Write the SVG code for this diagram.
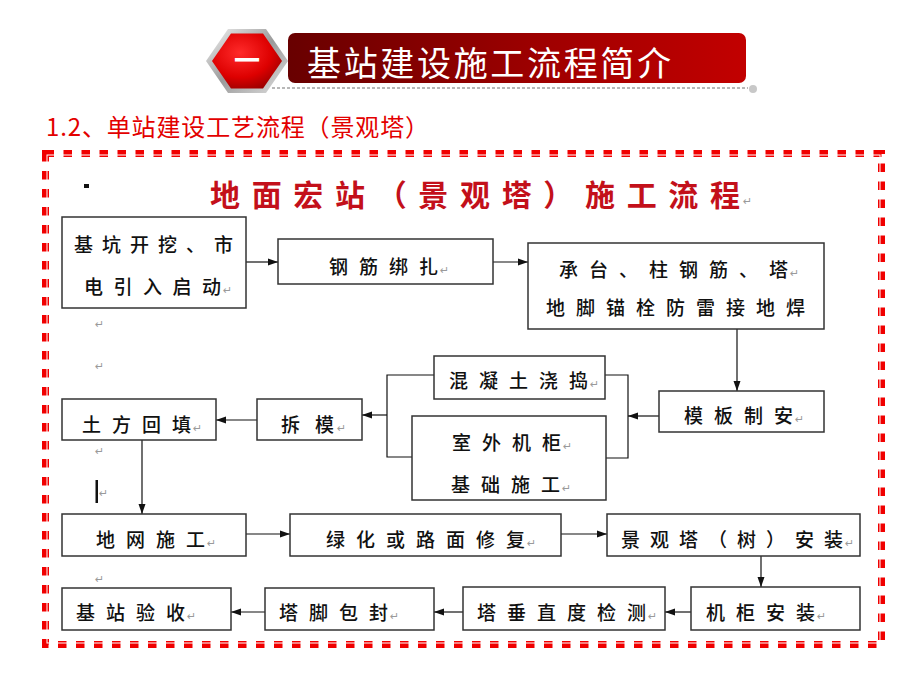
<svg xmlns="http://www.w3.org/2000/svg" width="920" height="690" viewBox="0 0 920 690">
<defs>
<linearGradient id="ban" x1="0" y1="0" x2="1" y2="0">
<stop offset="0" stop-color="#680000"/>
<stop offset="0.55" stop-color="#9e0000"/>
<stop offset="1" stop-color="#c20000"/>
</linearGradient>
<linearGradient id="silver" x1="0" y1="0" x2="1" y2="1">
<stop offset="0" stop-color="#f4f4f4"/>
<stop offset="0.5" stop-color="#9a9a9a"/>
<stop offset="1" stop-color="#e0e0e0"/>
</linearGradient>
<radialGradient id="hexred" cx="0.4" cy="0.35" r="0.75">
<stop offset="0" stop-color="#ff2a2a"/>
<stop offset="0.6" stop-color="#dd0000"/>
<stop offset="1" stop-color="#900000"/>
</radialGradient>
<marker id="ah" viewBox="0 0 10 10" refX="10" refY="5" markerWidth="10" markerHeight="10" orient="auto" markerUnits="userSpaceOnUse">
<path d="M0,1.5 L10,5 L0,8.5 z" fill="#111"/>
</marker>
<style>
.b{fill:#fff;stroke:#333;stroke-width:1.5}
.t{font-family:"Noto Sans CJK SC","Noto Sans CJK JP",sans-serif;font-size:19px;fill:#111;letter-spacing:11px;font-weight:500}
.t tspan{letter-spacing:0}
.rt{font-family:"DejaVu Sans",sans-serif;font-size:11px;fill:#9a9a9a;letter-spacing:0;font-weight:normal}
.c{fill:none;stroke:#111;stroke-width:1.2}
.a{marker-end:url(#ah)}
</style>
</defs>
<rect width="920" height="690" fill="#fff"/>

<g id="header">
<polygon points="206,61 228,29 266,29 288,61 266,93 228,93" fill="url(#silver)"/>
<polygon points="212,61 231,33.5 263,33.5 282,61 263,88.5 231,88.5" fill="url(#hexred)"/>
<text x="247" y="70" text-anchor="middle" font-family="Noto Sans CJK SC,sans-serif" font-size="26" font-weight="bold" fill="#fff">一</text>
<rect x="288" y="33" width="458" height="50" rx="7" fill="url(#ban)"/>
<text x="307" y="76" font-family="Noto Sans CJK SC,sans-serif" font-size="34" fill="#fff" textLength="364" lengthAdjust="spacing">基站建设施工流程简介</text>
<line x1="272" y1="88" x2="748" y2="88" stroke="#b8b8b8" stroke-width="2" stroke-dasharray="3 2"/>
<circle cx="753" cy="89" r="4" fill="#c8c8c8"/>
</g>

<text id="subtitle" x="46" y="136" font-family="Noto Sans CJK SC,sans-serif" font-size="24" fill="#e30000" textLength="383" lengthAdjust="spacing">1.2、单站建设工艺流程（景观塔）</text>

<g id="frame">
<rect x="45.5" y="153.5" width="836" height="491" fill="none" stroke="#f00000" stroke-width="7" stroke-dasharray="8.5 9.5"/>
<rect x="47" y="155" width="833" height="488" fill="none" stroke="#fff" stroke-width="1"/>
</g>

<rect x="84" y="184" width="5" height="4" fill="#111"/>
<g id="title">
<text x="210" y="206" font-family="Noto Sans CJK SC,sans-serif" font-size="30" font-weight="bold" fill="#c3101a" textLength="530" lengthAdjust="spacing">地面宏站（景观塔）施工流程</text>
<text x="743" y="205" class="rt">↵</text>
</g>

<g id="marks">
<text x="95" y="328" class="rt">↵</text>
<text x="95" y="370" class="rt">↵</text>
<text x="95" y="455" class="rt">↵</text>
<rect x="95.5" y="480" width="2.5" height="23" fill="#111"/>
<text x="99" y="497" class="rt">↵</text>
<text x="95" y="583" class="rt">↵</text>
</g>

<g id="connectors">
<path class="c a" d="M246,262 H278"/>
<path class="c a" d="M493,262 H528"/>
<path class="c a" d="M737,329 V391"/>
<path class="c a" d="M659,416 H628"/>
<path class="c" d="M605,375 H628 V458 H606"/>
<path class="c" d="M434,375 H387 V457 H412"/>
<path class="c a" d="M387,415 H362"/>
<path class="c a" d="M257,420 H216"/>
<path class="c a" d="M142,440 V514"/>
<path class="c a" d="M246,534 H290"/>
<path class="c a" d="M561,534 H607"/>
<path class="c a" d="M761,556 V587"/>
<path class="c a" d="M691,612 H665"/>
<path class="c a" d="M463,612 H434"/>
<path class="c a" d="M265,612 H231"/>
</g>

<g id="n1"><rect class="b" x="62" y="217" width="184" height="91"/>
<text class="t" x="74" y="252" style="letter-spacing:9px">基坑开挖、<tspan>市</tspan></text>
<text class="t" x="84" y="294" style="letter-spacing:10.5px">电引入启<tspan>动</tspan></text>
<text class="rt" x="223" y="294">↵</text></g>

<g id="n2"><rect class="b" x="278" y="239" width="215" height="45"/>
<text class="t" x="329" y="274">钢筋绑<tspan>扎</tspan></text>
<text class="rt" x="440" y="274">↵</text></g>

<g id="n3"><rect class="b" x="528" y="243" width="296" height="86"/>
<text class="t" x="559" y="277">承台、柱钢筋、<tspan>塔</tspan></text>
<text class="rt" x="790" y="277">↵</text>
<text class="t" x="546" y="315">地脚锚栓防雷接地<tspan>焊</tspan></text></g>

<g id="n4"><rect class="b" x="659" y="391" width="165" height="41"/>
<text class="t" x="684" y="423">模板制<tspan>安</tspan></text>
<text class="rt" x="795" y="423">↵</text></g>

<g id="n5"><rect class="b" x="434" y="356" width="171" height="43"/>
<text class="t" x="449" y="388">混凝土浇<tspan>捣</tspan></text>
<text class="rt" x="590" y="388">↵</text></g>

<g id="n6"><rect class="b" x="412" y="416" width="194" height="84"/>
<text class="t" x="452" y="450">室外机<tspan>柜</tspan></text>
<text class="rt" x="563" y="450">↵</text>
<text class="t" x="451" y="492">基础施<tspan>工</tspan></text>
<text class="rt" x="562" y="492">↵</text></g>

<g id="n7"><rect class="b" x="257" y="399" width="105" height="41"/>
<text class="t" x="281" y="432" style="letter-spacing:15px">拆<tspan>模</tspan></text>
<text class="rt" x="337" y="432">↵</text></g>

<g id="n8"><rect class="b" x="62" y="399" width="154" height="41"/>
<text class="t" x="82" y="432">土方回<tspan>填</tspan></text>
<text class="rt" x="193" y="432">↵</text></g>

<g id="n9"><rect class="b" x="62" y="514" width="184" height="42"/>
<text class="t" x="96" y="547">地网施<tspan>工</tspan></text>
<text class="rt" x="207" y="547">↵</text></g>

<g id="n10"><rect class="b" x="290" y="514" width="271" height="42"/>
<text class="t" x="326" y="547">绿化或路面修<tspan>复</tspan></text>
<text class="rt" x="527" y="547">↵</text></g>

<g id="n11"><rect class="b" x="607" y="514" width="253" height="42"/>
<text class="t" x="621" y="547" style="letter-spacing:10px">景观塔（树）安<tspan>装</tspan></text>
<text class="rt" x="845" y="547">↵</text></g>

<g id="n12"><rect class="b" x="691" y="587" width="169" height="43"/>
<text class="t" x="706" y="620">机柜安<tspan>装</tspan></text>
<text class="rt" x="817" y="620">↵</text></g>

<g id="n13"><rect class="b" x="463" y="587" width="202" height="43"/>
<text class="t" x="477" y="620">塔垂直度检<tspan>测</tspan></text>
<text class="rt" x="648" y="620">↵</text></g>

<g id="n14"><rect class="b" x="265" y="588" width="169" height="42"/>
<text class="t" x="279" y="620">塔脚包<tspan>封</tspan></text>
<text class="rt" x="390" y="620">↵</text></g>

<g id="n15"><rect class="b" x="62" y="588" width="169" height="42"/>
<text class="t" x="76" y="620">基站验<tspan>收</tspan></text>
<text class="rt" x="187" y="620">↵</text></g>
</svg>
